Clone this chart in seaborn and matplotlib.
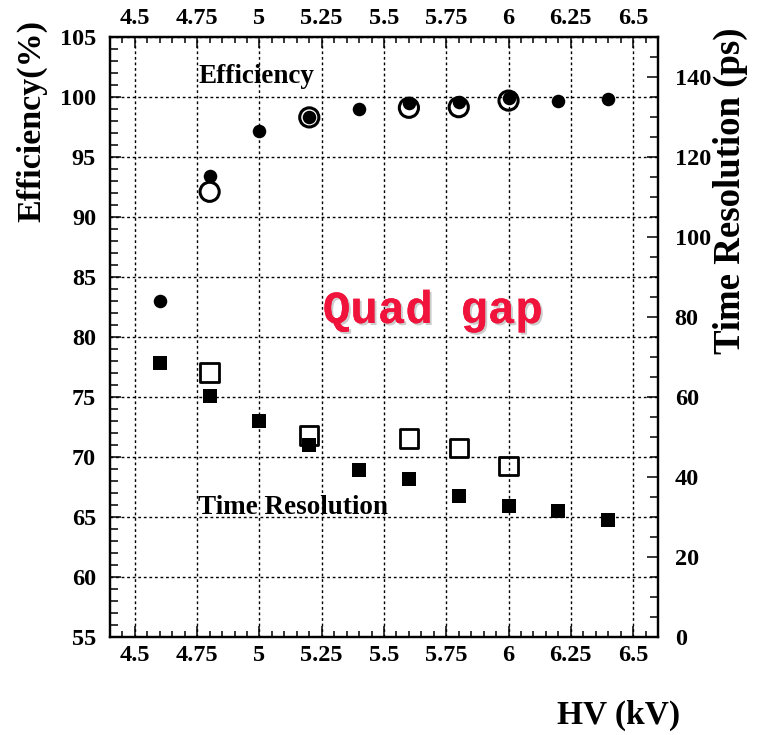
import matplotlib
matplotlib.use("Agg")
import matplotlib.pyplot as plt
import matplotlib.patheffects as pe
from matplotlib.ticker import MultipleLocator
import numpy as np
import pandas as pd
import seaborn as sns

# High voltage settings (kV)
hv_full = [4.6, 4.8, 5.0, 5.2, 5.4, 5.6, 5.8, 6.0, 6.2, 6.4]
hv_open = [4.8, 5.2, 5.6, 5.8, 6.0]

# Efficiency (%)
eff_full = [83.0, 93.4, 97.2, 98.3, 99.0, 99.5, 99.6, 99.9, 99.7, 99.8]
eff_open = [92.1, 98.3, 99.1, 99.15, 99.7]

# Time resolution (ps)
tres_full = [68.6, 60.3, 53.9, 47.9, 41.8, 39.4, 35.3, 32.7, 31.6, 29.3]
tres_open = [66.1, 50.4, 49.6, 47.2, 42.7]

xticks = [4.5, 4.75, 5, 5.25, 5.5, 5.75, 6, 6.25, 6.5]
xticklabels = ["4.5", "4.75", "5", "5.25", "5.5", "5.75", "6", "6.25", "6.5"]

sns.set_style("ticks")
plt.rcParams["font.family"] = ["Liberation Serif", "DejaVu Serif"]
plt.rcParams["font.weight"] = "bold"
for key in ("text.color", "axes.labelcolor", "xtick.color", "ytick.color",
            "xtick.labelcolor", "ytick.labelcolor", "axes.edgecolor"):
    plt.rcParams[key] = "black"

W, H = 757, 735
fig = plt.figure(figsize=(W / 100, H / 100), dpi=100)
fig.patch.set_facecolor("white")
L, R, T, B = 110, 658, 37, 637
ax = fig.add_axes([L / W, (H - B) / H, (R - L) / W, (B - T) / H])
ax2 = ax.twinx()

df_full = pd.DataFrame({"hv": hv_full, "eff": eff_full, "tres": tres_full})
df_open = pd.DataFrame({"hv": hv_open, "eff": eff_open, "tres": tres_open})

# open markers first, filled markers on top
sns.scatterplot(data=df_open, x="hv", y="eff", ax=ax, marker="o", s=190,
                color="black", linewidth=2.2, zorder=4)
ax.collections[-1].set_facecolor("none")
ax.collections[-1].set_edgecolor("black")
sns.scatterplot(data=df_full, x="hv", y="eff", ax=ax, marker="o", s=95,
                color="black", linewidth=0, zorder=5)

sns.scatterplot(data=df_open, x="hv", y="tres", ax=ax2, marker="s", s=175,
                color="black", linewidth=2.0, zorder=4)
ax2.collections[-1].set_facecolor("none")
ax2.collections[-1].set_edgecolor("black")
sns.scatterplot(data=df_full, x="hv", y="tres", ax=ax2, marker="s", s=100,
                color="black", linewidth=0, zorder=5)

ax.set_xlim(4.4, 6.6)
ax.set_ylim(55, 105)
ax2.set_ylim(0, 150)

ax.set_xticks(xticks)
ax.set_xticklabels(xticklabels)
ax.xaxis.set_minor_locator(MultipleLocator(0.05))
ax.yaxis.set_major_locator(MultipleLocator(5))
ax.yaxis.set_minor_locator(MultipleLocator(1))
ax2.yaxis.set_major_locator(MultipleLocator(20))
ax2.yaxis.set_minor_locator(MultipleLocator(5))

ax.grid(True, which="major", color="black", linestyle=(0, (2, 2)), linewidth=1.0)
ax.set_axisbelow(True)
ax2.grid(False)

tick_font = 17.5
ax.tick_params(axis="x", which="both", direction="in", top=True, bottom=True,
               labeltop=True, labelbottom=True, labelsize=tick_font, width=1.1, pad=6,
               colors="black")
ax.tick_params(axis="x", which="major", length=8)
ax.tick_params(axis="x", which="minor", length=4)
ax.tick_params(axis="y", which="both", direction="in", left=True, right=False,
               labelsize=tick_font, width=1.1, pad=10, colors="black")
ax.tick_params(axis="y", which="major", length=8)
ax.tick_params(axis="y", which="minor", length=6)
ax2.tick_params(axis="y", which="both", direction="in", right=True, left=False,
                labelsize=tick_font, width=1.1, pad=12, colors="black")
ax2.tick_params(axis="y", which="major", length=8)
ax2.tick_params(axis="y", which="minor", length=6)
for a in (ax, ax2):
    for lab in a.get_xticklabels() + a.get_yticklabels():
        lab.set_fontweight("bold")
    for s in a.spines.values():
        s.set_linewidth(1.6)
        s.set_color("black")

ax.set_xlabel("HV (kV)", fontsize=24, fontweight="bold", color="black",
              ha="right", va="center")
ax.xaxis.set_label_coords((680 - L) / (R - L), (B - 715) / (B - T))
ax.set_ylabel("Efficiency(%)", fontsize=24.5, fontweight="bold", color="black",
              rotation=90, rotation_mode="default", ha="center", va="top")
ax.yaxis.set_label_coords((32 - L) / (R - L), (B - 20) / (B - T))
ax2.set_ylabel("Time Resolution (ps)", fontsize=26.5, fontweight="bold", color="black",
               rotation=90, rotation_mode="default", ha="center", va="top")
ax2.yaxis.set_label_coords((730 - L) / (R - L), (B - 27) / (B - T))

ax.text(4.756, 101.67, "Efficiency", fontsize=19.5, fontweight="bold", color="black",
        ha="left", va="center", zorder=6)
ax.text(4.752, 65.75, "Time Resolution", fontsize=19.5, fontweight="bold", color="black",
        ha="left", va="center", zorder=6)
ax.text(5.696, 82.17, "Quad gap", fontsize=33, fontweight="bold",
        family=["Liberation Mono", "DejaVu Sans Mono"], color="#f0143c",
        ha="center", va="center", zorder=6,
        path_effects=[pe.withSimplePatchShadow(offset=(1.5, -1.5), shadow_rgbFace="#aaaaaa", alpha=0.6),
                      pe.Normal()])

fig.savefig("out.png", dpi=100, facecolor="white")
